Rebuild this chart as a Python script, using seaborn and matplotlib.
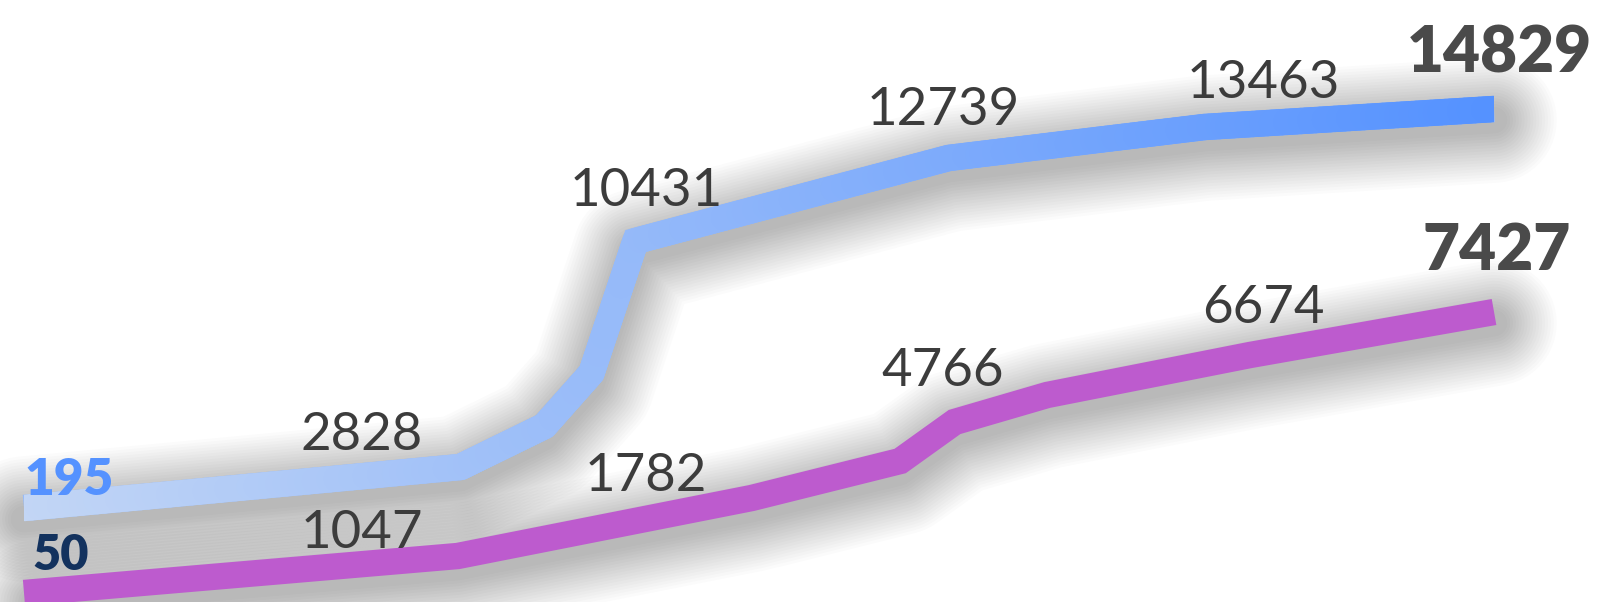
import numpy as np
import pandas as pd
import matplotlib
matplotlib.use("Agg")
import matplotlib.pyplot as plt
import matplotlib.patheffects as pe
from matplotlib.collections import LineCollection
from matplotlib.patches import Rectangle
from matplotlib.colors import LinearSegmentedColormap
import seaborn as sns

# ---- data ----
blue_x = [0, 29.7, 35.4, 38.6, 41.6, 62.9, 80.3, 100]
blue_y = [195, 1699, 3202, 5146, 9987, 13032, 14168, 14829]
purple_x = [0, 29.5, 49.5, 59.6, 63.3, 69.6, 83.4, 100]
purple_y = [50, 1021, 2544, 3515, 4539, 5248, 6298, 7427]
label_x = [0, 23, 42.3, 62.5, 84.3, 100]
blue_labels = [195, 2828, 10431, 12739, 13463, 14829]
purple_labels = [50, 1047, 1782, 4766, 6674, 7427]

sns.set_theme(style="white")
plt.rcParams["font.family"] = ["Lato", "DejaVu Sans"]

fig = plt.figure(figsize=(16.04, 6.02), dpi=100)
fig.patch.set_facecolor("white")
ax = fig.add_axes([0, 0, 1, 1])
ax2 = ax.twinx()

LW = 19
BLUE_START, BLUE_END = "#c3d6f5", "#5592ff"
BLUE_MID = "#97bbf9"
PURPLE = "#bd5bce"
cmap = LinearSegmentedColormap.from_list("bl", [BLUE_START, BLUE_END])


def shadow_effects(lw):
    effs = []
    for k in range(18):
        effs.append(pe.SimpleLineShadow(offset=(0, -8), shadow_color="black",
                                        alpha=0.015, linewidth=lw + 4.2 * k,
                                        capstyle="round", joinstyle="round"))
    effs.append(pe.Normal())
    return effs


df_b = pd.DataFrame({"x": blue_x, "y": blue_y})
df_p = pd.DataFrame({"x": purple_x, "y": purple_y})

sns.lineplot(data=df_b, x="x", y="y", ax=ax, color=BLUE_MID, linewidth=LW,
             sort=False, errorbar=None, legend=False,
             solid_joinstyle="miter", solid_capstyle="butt",
             path_effects=shadow_effects(LW))

# gradient overlay for the blue line
xs, ys = [], []
for i in range(len(blue_x) - 1):
    t = np.linspace(0, 1, 60, endpoint=False)
    xs.extend(blue_x[i] + t * (blue_x[i + 1] - blue_x[i]))
    ys.extend(blue_y[i] + t * (blue_y[i + 1] - blue_y[i]))
xs.append(blue_x[-1]); ys.append(blue_y[-1])
pts = np.column_stack([xs, ys])
segs = np.stack([pts[:-1], pts[1:]], axis=1)
mids = (pts[:-1, 0] + pts[1:, 0]) / 2
lc = LineCollection(segs, colors=cmap(mids / max(blue_x)), linewidths=LW,
                    capstyle="round", zorder=3)
ax.add_collection(lc)
clip = Rectangle((blue_x[0], -1e6), blue_x[-1] - blue_x[0], 2e6,
                 transform=ax.transData)
lc.set_clip_path(clip)

sns.lineplot(data=df_p, x="x", y="y", ax=ax2, color=PURPLE, linewidth=LW,
             sort=False, errorbar=None, legend=False,
             solid_joinstyle="miter", solid_capstyle="butt",
             path_effects=shadow_effects(LW))

for a in (ax, ax2):
    a.set_axis_off()
ax.set_xlim(-1.633, 107.48)
ax.set_ylim(-3252.6, 18826.6)
ax2.set_ylim(-186.3, 15618)

# ---- labels ----
REG = "#3c3c3c"
BOLD = "#4a4a4a"
blue_offs = [(0, 9.4), (0, 18.7), (0, 23), (0, 25.2), (0, 18), (4, 26.6)]
purple_offs = [(6, 16.6), (0, 11.5), (0, 20.2), (0, 31.7), (0, 21.6), (2, 30.2)]

def put_labels(axis, sx, sy, labels, offs, first_color, first_size):
    n = len(labels)
    for i, (lx, v) in enumerate(zip(label_x, labels)):
        yy = np.interp(lx, sx, sy)
        if i == 0:
            kw = dict(ha="left", fontsize=first_size, fontweight="heavy", color=first_color)
        elif i == n - 1:
            kw = dict(ha="center", fontsize=46, fontweight="heavy", color=BOLD)
        else:
            kw = dict(ha="center", fontsize=38, fontweight="normal", color=REG)
        axis.annotate(str(v), xy=(lx, yy), xytext=offs[i], textcoords="offset points",
                      va="baseline", zorder=5, **kw)

put_labels(ax, blue_x, blue_y, blue_labels, blue_offs, "#5592ff", 37)
put_labels(ax2, purple_x, purple_y, purple_labels, purple_offs, "#13325e", 35)

fig.savefig("out.png", dpi=100, facecolor="white")
